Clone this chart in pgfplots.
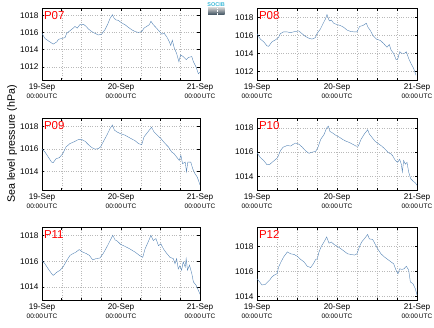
\documentclass[border=0pt]{standalone}
\usepackage{pgfplots}
\pgfplotsset{compat=1.18}
\usepackage{fontspec}
\setmainfont{Liberation Sans}
\definecolor{lineblue}{RGB}{85,132,182}
\definecolor{logocyan}{RGB}{60,185,215}
\definecolor{logodark}{RGB}{55,75,90}
\pgfplotsset{panel/.style={
 scale only axis, height=72.4pt, anchor=south west,
 xmin=0,xmax=48, xtick={0,24,48}, minor xtick={6,12,18,30,36,42},
 xticklabels={{19-Sep\\{\fontsize{6.5}{7}\selectfont 00:00\,UTC}},{20-Sep\\{\fontsize{6.5}{7}\selectfont 00:00\,UTC}},{21-Sep\\{\fontsize{6.5}{7}\selectfont 00:00\,UTC}}},
 ytick={1008,1010,...,1022},
 grid=both,
 major grid style={gray!55, dash pattern=on 0.6pt off 1.8pt, line width=0.45pt},
 minor grid style={gray!55, dash pattern=on 0.6pt off 1.8pt, line width=0.45pt},
 tick align=inside, major tick length=2.5pt, minor tick length=2.5pt,
 tick style={black, line width=0.5pt},
 axis line style={line width=0.7pt},
 ticklabel style={font=\fontsize{8.2}{9}\selectfont},
 xticklabel style={align=center},
 /pgf/number format/assume math mode=true,
 /pgf/number format/1000 sep={},
 cycle list={{lineblue, line width=0.95pt, mark=none}},
}}
\newcommand{\plab}[1]{\node[anchor=north west, inner xsep=1.8pt, inner ysep=2.5pt, text=red, font=\fontsize{11.5}{12}\selectfont] at (rel axis cs:0,1) {#1};}
\begin{document}
\begin{tikzpicture}
\useasboundingbox (0,0) rectangle (434pt,327pt);
% P07
\begin{axis}[panel, at={(42pt,246.3pt)}, width=158pt, ymin=1010.4, ymax=1018.8]
\addplot coordinates {(0,1015.9)(0.9,1015.3)(2.4,1014.9)(3.4,1014.65)(4.5,1014.9)(5.0,1015.2)(6.0,1015.3)(7.0,1015.4)(7.5,1015.9)(8.5,1016.2)(9.5,1016.5)(10.0,1016.7)(10.7,1016.5)(11.5,1016.9)(12.6,1016.95)(13.4,1016.7)(14.1,1016.4)(15.1,1016.1)(16.1,1015.9)(17.1,1015.7)(18.1,1015.8)(19.1,1016.3)(19.9,1016.9)(20.7,1017.65)(21.4,1018.05)(21.9,1017.65)(22.5,1017.45)(23.2,1017.4)(24.2,1017.1)(25.2,1016.9)(26.2,1016.6)(27.3,1016.3)(28.3,1016.1)(29.3,1016.0)(30.3,1016.1)(31.0,1016.5)(31.8,1016.7)(32.6,1016.9)(33.1,1017.3)(33.8,1016.9)(34.8,1016.5)(35.7,1016.1)(36.4,1015.8)(37.1,1015.9)(37.9,1015.5)(38.7,1014.9)(39.1,1014.5)(39.6,1015.1)(40.1,1014.3)(40.9,1013.55)(41.6,1012.6)(42.1,1013.4)(42.9,1013.2)(43.8,1012.85)(44.5,1013.1)(45.5,1013.2)(46.0,1012.6)(46.8,1012.0)(47.5,1011.2)(48,1011.4)};
\plab{P07}
\end{axis}
% P08
\begin{axis}[panel, at={(257pt,246.3pt)}, width=160pt, ymin=1011.0, ymax=1019.0]
\addplot coordinates {(0,1016.2)(1,1015.6)(2,1015.3)(3,1014.85)(3.5,1014.8)(4.5,1015.3)(5.5,1015.5)(6.5,1015.8)(7,1016.2)(8,1016.4)(9,1016.4)(10,1016.3)(11,1016.4)(12.5,1016.5)(13.5,1016.2)(14.5,1015.9)(15.5,1015.7)(16.5,1015.6)(17.5,1015.75)(18,1016.2)(19,1016.7)(19.8,1017.3)(20.5,1017.8)(21,1018.3)(21.7,1017.6)(22.3,1017.7)(23,1017.35)(24,1017.2)(25,1017.1)(26,1016.9)(27,1016.6)(28,1016.45)(29,1016.4)(30,1016.4)(30.8,1017.0)(31.8,1017.1)(32.8,1017.35)(33.3,1016.9)(34,1016.55)(34.8,1016.0)(35.8,1015.6)(37,1015.45)(38,1015.1)(39,1014.7)(39.7,1015.0)(40.2,1014.4)(41,1014.0)(41.7,1013.35)(42.2,1013.35)(42.8,1014.2)(43.5,1014.0)(44.2,1014.0)(44.8,1014.2)(45.5,1013.45)(46.2,1012.9)(47,1012.35)(47.7,1011.6)};
\plab{P08}
\end{axis}
% P09
\begin{axis}[panel, at={(42pt,136.3pt)}, width=158pt, ymin=1012.3, ymax=1018.75]
\addplot coordinates {(0,1016.0)(0.9,1015.75)(1.9,1015.3)(2.9,1014.85)(3.4,1014.8)(4.3,1015.15)(5.3,1015.25)(6.3,1015.6)(7.3,1016.2)(8.5,1016.5)(9.7,1016.65)(11.0,1016.85)(12.1,1016.85)(13.1,1016.7)(14.1,1016.4)(15.1,1016.15)(16.1,1016.0)(17.1,1016.05)(17.8,1016.2)(18.6,1016.65)(19.7,1017.25)(20.7,1017.85)(21.4,1018.15)(22.0,1017.7)(22.7,1017.55)(23.7,1017.4)(25.2,1017.25)(26.7,1017.0)(28.3,1016.75)(29.3,1016.5)(30.3,1016.4)(31.0,1017.1)(31.8,1017.4)(32.6,1017.7)(33.3,1017.95)(34.0,1017.55)(35.0,1017.25)(36.1,1016.95)(37.4,1016.5)(38.4,1016.2)(39.4,1015.75)(40.1,1015.6)(40.9,1015.3)(41.7,1015.0)(42.2,1015.45)(42.7,1014.7)(43.5,1014.85)(43.9,1014.0)(44.3,1014.85)(45.2,1014.85)(45.8,1014.25)(46.5,1013.8)(47.2,1013.5)(48,1012.8)};
\plab{P09}
\end{axis}
% P10
\begin{axis}[panel, at={(257pt,136.3pt)}, width=160pt, ymin=1012.8, ymax=1018.8]
\addplot coordinates {(0,1015.95)(1,1015.55)(2,1015.3)(3,1014.95)(3.8,1014.97)(4.5,1015.15)(5.2,1015.3)(6.2,1015.55)(7.0,1016.1)(7.8,1016.4)(9.1,1016.55)(10.1,1016.5)(10.9,1016.65)(11.6,1016.75)(12.6,1016.65)(13.6,1016.4)(14.6,1016.1)(15.6,1015.9)(16.6,1016.0)(17.6,1016.05)(18.3,1016.4)(19.1,1017.05)(20.1,1017.45)(20.9,1018.0)(21.4,1018.15)(21.9,1017.7)(22.6,1017.6)(23.6,1017.4)(24.6,1017.25)(25.7,1017.05)(26.7,1016.9)(27.7,1016.8)(28.7,1016.65)(29.7,1016.5)(30.4,1016.5)(31.2,1017.05)(32.2,1017.5)(33.2,1017.85)(33.7,1017.5)(34.4,1017.25)(35.4,1016.9)(36.4,1016.7)(37.4,1016.5)(38.4,1016.25)(39.4,1015.95)(40.2,1015.85)(40.7,1015.7)(41.4,1015.35)(42.2,1015.15)(42.8,1015.4)(43.3,1015.0)(43.6,1014.35)(44.0,1015.3)(44.5,1015.0)(45.0,1015.15)(45.5,1014.35)(46.1,1013.8)(46.8,1013.6)(47.5,1013.45)(48,1013.25)};
\plab{P10}
\end{axis}
% P11
\begin{axis}[panel, at={(42pt,27pt)}, width=158pt, ymin=1013.0, ymax=1018.6]
\addplot coordinates {(0,1016.05)(0.9,1015.8)(1.9,1015.4)(2.9,1015.05)(3.4,1014.9)(4.5,1015.15)(5.5,1015.3)(6.5,1015.6)(7.5,1016.05)(8.5,1016.45)(9.5,1016.6)(10.3,1016.7)(11.3,1016.9)(12.4,1016.7)(13.4,1016.6)(14.4,1016.45)(15.4,1016.1)(16.4,1016.2)(17.6,1016.25)(18.6,1016.6)(19.7,1017.1)(20.7,1017.6)(21.5,1018.0)(22.2,1017.65)(22.9,1017.55)(23.9,1017.3)(25.2,1017.15)(26.7,1016.95)(28.3,1016.7)(29.6,1016.45)(30.6,1016.3)(31.3,1016.95)(32.1,1017.4)(33.1,1018.0)(33.8,1017.6)(34.6,1017.75)(35.4,1017.2)(36.1,1017.35)(36.9,1016.95)(37.9,1016.6)(38.9,1016.3)(39.9,1016.2)(40.4,1015.8)(40.9,1016.2)(41.4,1015.4)(41.9,1015.65)(42.4,1015.3)(42.9,1015.95)(43.5,1015.55)(43.8,1016.2)(44.2,1015.3)(44.8,1015.7)(45.5,1015.05)(46.0,1014.4)(46.8,1014.15)(47.5,1013.75)(48,1013.45)};
\plab{P11}
\end{axis}
% P12
\begin{axis}[panel, at={(257pt,27pt)}, width=160pt, ymin=1013.7, ymax=1019.5]
\addplot coordinates {(0,1015.4)(0.8,1015.15)(1.5,1014.9)(2.5,1014.95)(3.2,1015.15)(3.8,1015.3)(4.5,1015.55)(5.2,1015.7)(6.0,1015.8)(6.5,1016.35)(7.2,1016.75)(8.0,1017.15)(9.1,1017.55)(10.1,1017.4)(11.1,1017.35)(12.1,1017.2)(13.1,1016.95)(14.1,1016.75)(15.1,1016.4)(16.1,1016.3)(16.9,1016.6)(17.6,1016.95)(18.1,1017.0)(18.6,1017.55)(19.3,1018.0)(20.1,1018.35)(20.9,1018.75)(21.6,1018.25)(22.3,1018.35)(23.1,1018.15)(24.1,1018.0)(25.2,1017.8)(26.2,1017.6)(27.2,1017.4)(28.2,1017.35)(29.2,1017.3)(30.0,1017.4)(30.7,1017.95)(31.4,1018.35)(32.2,1018.6)(33.2,1018.95)(33.7,1018.6)(34.7,1018.55)(35.4,1018.2)(36.2,1017.8)(37.2,1017.4)(38.2,1017.15)(39.2,1016.95)(40.2,1016.75)(41.0,1016.6)(41.7,1016.1)(42.3,1015.8)(42.8,1016.2)(43.5,1016.15)(44.1,1016.2)(44.8,1016.4)(45.5,1016.1)(46.0,1015.15)(46.8,1015.0)(47.5,1014.6)(48,1014.1)};
\plab{P12}
\end{axis}
% y label
\node[rotate=90, font=\fontsize{10.7}{12}\selectfont] at (12pt,183pt) {Sea level pressure (hPa)};
% logo
\shade[top color=gray!35, bottom color=logodark] (208pt,312pt) rectangle (224.5pt,319.5pt);
\draw[white, densely dotted, line width=0.4pt] (217pt,312.5pt) -- (217pt,319pt);
\node[text=logocyan, font=\fontsize{5.5}{6}\selectfont\bfseries, inner sep=0pt] at (216.2pt,322.5pt) {SOCIB};
\end{tikzpicture}
\end{document}
